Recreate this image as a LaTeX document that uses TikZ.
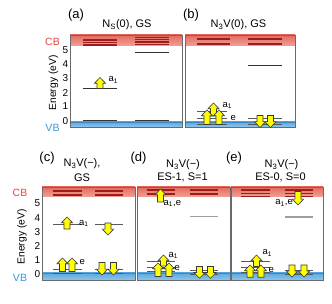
\documentclass[tikz,border=0pt]{standalone}
\usepackage{fontspec}
\setmainfont{Liberation Sans}
\definecolor{cbtop}{HTML}{E36A60}
\definecolor{cbbot}{HTML}{F0A198}
\definecolor{cbline}{HTML}{9E1C1C}
\definecolor{vbtop}{HTML}{5EA8DE}
\definecolor{vbbot}{HTML}{8CC6EE}
\definecolor{vbedge}{HTML}{3F86C0}
\definecolor{gridc}{HTML}{E0A8A8}
\definecolor{boxc}{HTML}{6A6A6A}
\definecolor{cbtext}{HTML}{E8453C}
\definecolor{vbtext}{HTML}{3A9AD9}
\definecolor{arrfill}{HTML}{FFFF00}
\definecolor{arredge}{HTML}{3A3A3A}
\tikzset{
  gridl/.style={gridc,densely dotted,line width=0.5pt},
  boxl/.style={boxc,line width=0.9pt},
  vbl/.style={vbedge,line width=0.8pt},
  cbthick/.style={cbline,line width=1.2pt},
  cbthin/.style={cbline,line width=0.6pt},
  lev/.style={black!80,line width=0.9pt},
  elev/.style={black!65,line width=0.7pt},
  glev/.style={black!38,line width=1.3pt},
  blockarr/.style={fill=arrfill,draw=arredge,line width=0.6pt,line join=miter},
  ttl/.style={font=\fontsize{11}{13}\selectfont,inner sep=0pt},
  plabel/.style={font=\fontsize{13}{15}\selectfont,inner sep=0pt},
  tick/.style={font=\fontsize{10}{12}\selectfont,inner sep=0pt,anchor=east},
  axl/.style={font=\fontsize{10.3}{12}\selectfont,inner sep=0pt,rotate=90},
  bandl/.style={font=\fontsize{10.5}{12}\selectfont,inner sep=0pt},
  orb/.style={font=\fontsize{9.5}{10}\selectfont,inner sep=0pt},
}
% panel box: x1 x2 ytop ycb yvb ybot gridlist
\newcommand\pbox[7]{%
  \fill[white] (#1,#3) rectangle (#2,#6);
  \foreach \gy in {#7} \draw[gridl] (#1,\gy) -- (#2,\gy);
  \shade[top color=cbtop,bottom color=cbbot] (#1,#3) rectangle (#2,#4);
  \shade[top color=vbtop,bottom color=vbbot] (#1,#5) rectangle (#2,#6);
  \draw[vbl] (#1,#5) -- (#2,#5);
  \draw[boxl] (#1,#3) rectangle (#2,#6);
}
% up arrow: x ytop ybottom
\newcommand\upA[3]{%
  \draw[blockarr] (#1-3,#3) -- (#1-3,#2+5.8) -- (#1-5.6,#2+5.8) -- (#1,#2)
    -- (#1+5.6,#2+5.8) -- (#1+3,#2+5.8) -- (#1+3,#3) -- cycle;}
% down arrow: x ytop ybottom
\newcommand\dnA[3]{%
  \draw[blockarr] (#1-3,#2) -- (#1-3,#3-5.8) -- (#1-5.6,#3-5.8) -- (#1,#3)
    -- (#1+5.6,#3-5.8) -- (#1+3,#3-5.8) -- (#1+3,#2) -- cycle;}
\begin{document}
\begin{tikzpicture}[x=1pt,y=-1pt]
\useasboundingbox (0,0) rectangle (332,304);
\fill[white] (0,0) rectangle (332,304);
\def\gridA{48,57.3,66.6,75.9,85.2,94.5,103.8,113.1}
\def\gridB{200,210,220,230,240,250,260,270}

% ---------- axes row 1 ----------
\foreach \k in {0,...,5} \node[tick] (t1\k) at (68.5,120.6-14.04*\k) {\k};
\node[axl] (ax1) at (53.5,83) {Energy (eV)};
\node[bandl,text=cbtext] (cb1) at (52.5,42) {CB};
\node[bandl,text=vbtext] (vb1) at (52.5,127.5) {VB};
% ---------- axes row 2 ----------
\foreach \k in {0,...,5} \node[tick] (t2\k) at (40.5,274-14.1*\k) {\k};
\node[axl] (ax2) at (22,237) {Energy (eV)};
\node[bandl,text=cbtext] (cb2) at (20,193) {CB};
\node[bandl,text=vbtext] (vb2) at (20,277.5) {VB};

% ---------- panel (a) ----------
\node[plabel] (la) at (76,15) {(a)};
\node[ttl] (tia) at (127,25) {N\textsubscript{S}(0), GS};
\pbox{70}{182}{35}{46}{122}{127}{\gridA}
\foreach \y in {40,42.5,45} \draw[cbthick] (83,\y) -- (117,\y);
\foreach \y in {37.7,39.3,41,42.7,44.3} \draw[cbthin] (135,\y) -- (169,\y);
\draw[lev] (135,52) -- (169,52);
\draw[lev] (83,88) -- (117,88);
\upA{100}{77.5}{88.5}
\node[orb,anchor=west] (a1a) at (108.5,80) {a\textsubscript{1}};
\draw[lev] (83,120.6) -- (117,120.6);
\draw[lev] (135,120.6) -- (169,120.6);

% ---------- panel (b) ----------
\node[plabel] (lb) at (191,15) {(b)};
\node[ttl] (tib) at (238.5,25) {N\textsubscript{3}V(0), GS};
\pbox{185}{295}{35}{46}{122}{127}{\gridA}
\foreach \y in {39,44} {\draw[cbthick] (197,\y) -- (230,\y); \draw[cbthick] (248,\y) -- (282,\y);}
\draw[lev] (248,65) -- (282,65);
\draw[elev] (197,111) -- (227,111);
\foreach \y in {118,124} {\draw[elev] (197,\y) -- (227,\y); \draw[elev] (248,\y) -- (282,\y);}
\upA{213.5}{103}{116}
\upA{207}{110}{124.5}
\upA{219}{110}{124.5}
\dnA{260}{115.5}{127.5}
\dnA{270.5}{115.5}{127.5}
\node[orb,anchor=west] (a1b) at (222.5,105.5) {a\textsubscript{1}};
\node[orb,anchor=west] (eb) at (230.5,118) {e};

% ---------- panel (c) ----------
\node[plabel] (lc) at (47,158) {(c)};
\node[ttl] (tic1) at (82,164) {N\textsubscript{3}V(−),};
\node[ttl] (tic2) at (82,178) {GS};
\pbox{42}{135}{187}{197}{273}{280}{\gridB}
\foreach \y in {191,195} {\draw[cbthick] (53,\y) -- (82,\y); \draw[cbthick] (95,\y) -- (123,\y);}
\draw[elev] (53,224) -- (82,224);
\draw[elev] (95,224) -- (123,224);
\upA{67}{217}{229}
\dnA{108}{223}{235}
\node[orb,anchor=west] (a1c) at (79,223.5) {a\textsubscript{1}};
\foreach \y in {269,273.3} {\draw[elev] (53,\y) -- (82,\y); \draw[elev] (95,\y) -- (123,\y);}
\upA{62.5}{258}{271.5}
\upA{72}{258}{271.5}
\node[orb,anchor=west] (ec) at (79.5,262) {e};
\dnA{102}{262.5}{275}
\dnA{113.5}{262.5}{275}

% ---------- panel (d) ----------
\node[plabel] (ld) at (138.5,158) {(d)};
\node[ttl] (tid1) at (183,165) {N\textsubscript{3}V(−)};
\node[ttl] (tid2) at (182.5,177) {ES-1, S=1};
\pbox{137}{230}{187}{197}{273}{280}{\gridB}
\foreach \y in {190,194} {\draw[cbthick] (147,\y) -- (175,\y); \draw[cbthick] (190,\y) -- (218,\y);}
\upA{160.5}{189}{202}
\node[orb,anchor=west] (aed) at (163.5,203.5) {a\textsubscript{1},e};
\draw[glev] (190,216.7) -- (218,216.7);
\draw[elev] (147,261.7) -- (175,261.7);
\foreach \y in {267.3,271.7} \draw[elev] (147,\y) -- (175,\y);
\foreach \y in {270,274} \draw[elev] (190,\y) -- (218,\y);
\upA{163.5}{255}{266}
\upA{158}{263}{276.5}
\upA{169}{263}{276.5}
\node[orb,anchor=west] (a1d) at (168.5,255.5) {a\textsubscript{1}};
\node[orb,anchor=west] (ed) at (174.5,268) {e};
\dnA{199.5}{266.5}{278.3}
\dnA{210.5}{266.5}{278.3}

% ---------- panel (e) ----------
\node[plabel] (le) at (234,158) {(e)};
\node[ttl] (tie1) at (281.5,165) {N\textsubscript{3}V(−)};
\node[ttl] (tie2) at (280.5,177) {ES-0, S=0};
\pbox{231}{323}{187}{197}{273}{280}{\gridB}
\foreach \y in {190,193.3,196.6} {\draw[cbthick] (241,\y) -- (270,\y); \draw[cbthick] (285,\y) -- (313,\y);}
\dnA{298}{191.5}{205}
\node[orb,anchor=east] (aee) at (293,203) {a\textsubscript{1},e};
\draw[glev] (285,217) -- (313,217);
\draw[elev] (241,261.7) -- (270,261.7);
\foreach \y in {267,272} \draw[elev] (241,\y) -- (270,\y);
\foreach \y in {270,274} \draw[elev] (285,\y) -- (313,\y);
\upA{256.5}{255}{266.5}
\upA{250}{265}{277.3}
\upA{261}{265}{277.3}
\node[orb,anchor=west] (a1e) at (262.5,253) {a\textsubscript{1}};
\node[orb,anchor=west] (ee) at (268.5,269.5) {e};
\dnA{292}{265}{277}
\dnA{304}{265}{277}
\end{tikzpicture}
\end{document}
